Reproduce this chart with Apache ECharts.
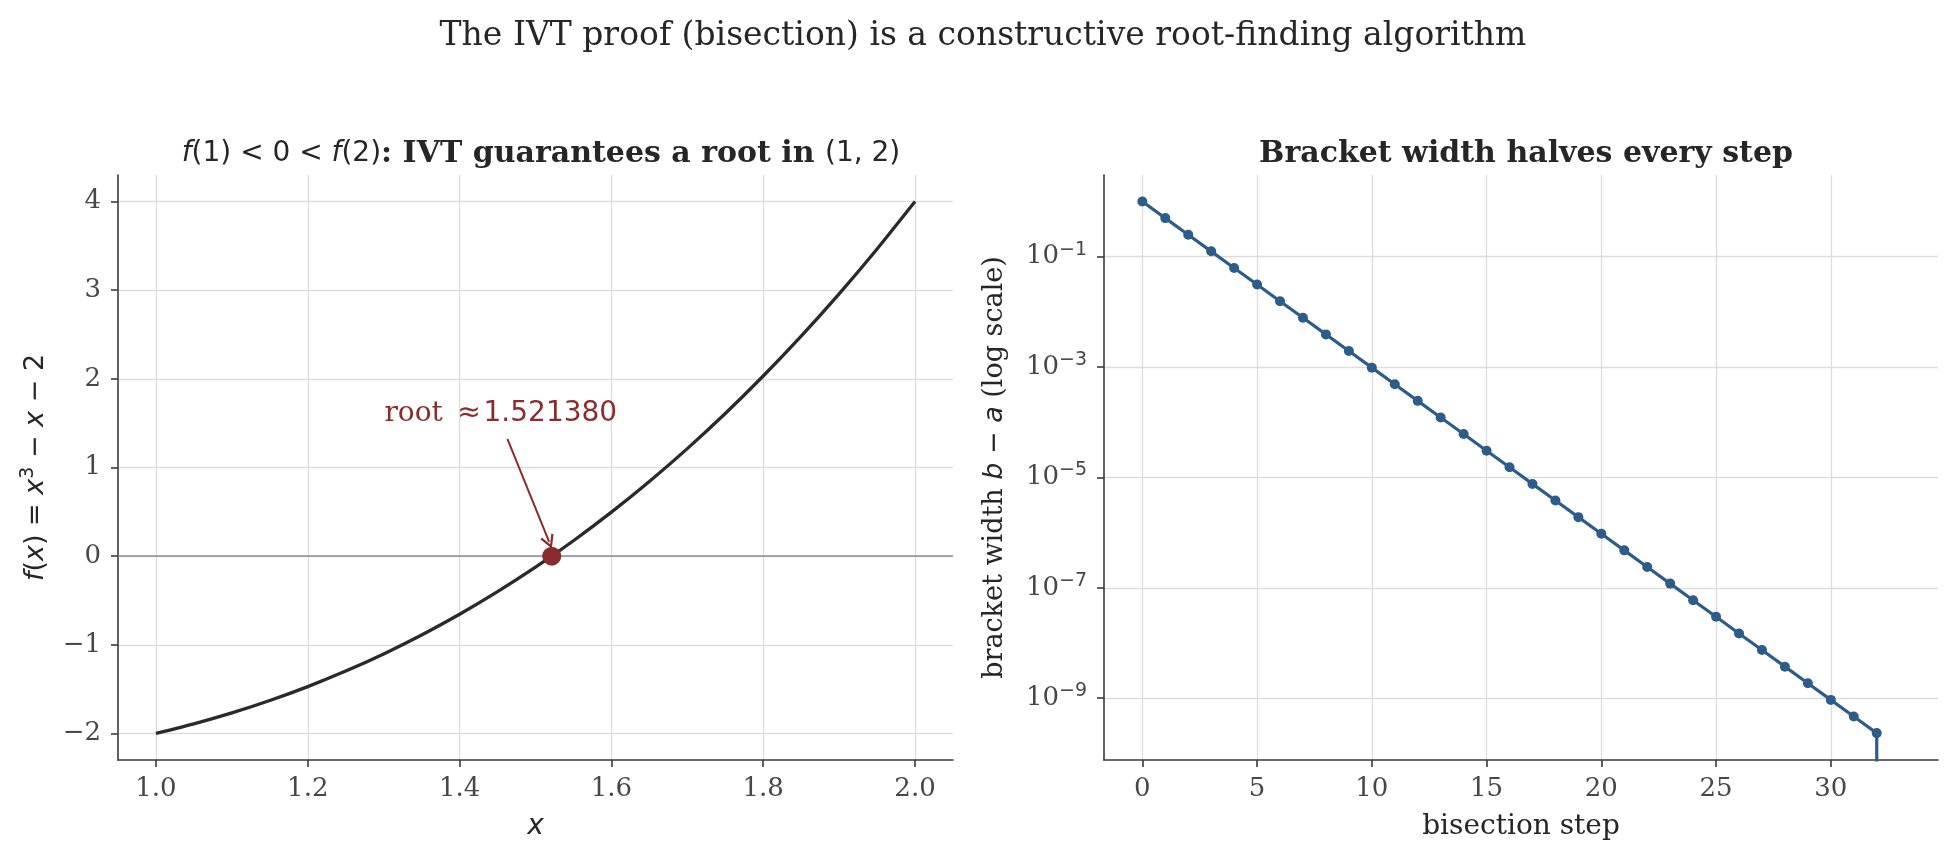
<!DOCTYPE html>
<html>
<head>
<meta charset="utf-8">
<script src="https://cdn.jsdelivr.net/npm/echarts@6/dist/echarts.min.js"></script>
<style>
  html, body { margin: 0; padding: 0; background: #fff; }
  #main { width: 1956px; height: 860px; }
</style>
</head>
<body>
<div id="main"></div>
<script>
// ---- data ----
// left panel: f(x) = x^3 - x - 2 sampled along the drawn curve
const curveX = [1.00, 1.05, 1.10, 1.15, 1.20, 1.25, 1.30, 1.35, 1.40, 1.45, 1.50,
                1.55, 1.60, 1.65, 1.70, 1.75, 1.80, 1.85, 1.90, 1.95, 2.00];
const curveY = [-2.000, -1.892, -1.769, -1.629, -1.472, -1.297, -1.103, -0.890, -0.656, -0.401, -0.125,
                0.174, 0.496, 0.842, 1.213, 1.609, 2.032, 2.482, 2.959, 3.465, 4.000];
const rootX = 1.521380;
const rootLabel = '1.521380';

// right panel: bracket width per bisection step (last one collapses to ~0)
const steps = [0, 1, 2, 3, 4, 5, 6, 7, 8, 9, 10, 11, 12, 13, 14, 15, 16,
               17, 18, 19, 20, 21, 22, 23, 24, 25, 26, 27, 28, 29, 30, 31, 32, 33];
const widths = [1, 0.5, 0.25, 0.125, 0.0625, 0.03125, 0.015625, 0.0078125,
  0.00390625, 0.001953125, 9.765625e-4, 4.8828125e-4, 2.44140625e-4, 1.220703125e-4,
  6.103515625e-5, 3.0517578125e-5, 1.52587890625e-5, 7.62939453125e-6, 3.814697265625e-6,
  1.9073486328125e-6, 9.5367431640625e-7, 4.76837158203125e-7, 2.384185791015625e-7,
  1.1920928955078125e-7, 5.960464477539063e-8, 2.9802322387695312e-8, 1.4901161193847656e-8,
  7.450580596923828e-9, 3.725290283203125e-9, 1.862645149230957e-9, 9.313225746154785e-10,
  4.656612873077393e-10, 2.3283064365386963e-10, 1e-300];

// tick labels
const leftXTicks = [1.0, 1.2, 1.4, 1.6, 1.8, 2.0];
const leftYTicks = [-2, -1, 0, 1, 2, 3, 4];
const rightXTicks = [0, 5, 10, 15, 20, 25, 30];
const rightYTicks = [1e-1, 1e-3, 1e-5, 1e-7, 1e-9];

// ---- style ----
const SERIF = 'DejaVu Serif';
const SANS = 'DejaVu Sans';
const TXT = '#262626';
const TICK = '#474747';
const SPINE = '#3a3a3a';
const GRIDC = '#dddddd';
const RED = '#8b2c2c';
const BLUE = '#2c5d8a';
const FS_TICK = 26, FS_LABEL = 28, FS_TITLE = 30;

const minus = v => (v < 0 ? '\u2212' + (-v) : String(v));

function axisBase(extra) {
  return Object.assign({
    axisLine: { show: true, onZero: false, lineStyle: { color: SPINE, width: 1.6 } },
    splitLine: { show: true, lineStyle: { color: GRIDC, width: 1.3 } },
    nameLocation: 'middle',
    nameTextStyle: { color: TXT, fontFamily: SERIF, fontSize: FS_LABEL }
  }, extra);
}
function ticks(vals) {
  return { show: true, length: 7, customValues: vals, lineStyle: { color: SPINE, width: 1.6 } };
}

// open chevron arrow head, pointing up before rotation
const chevron = 'path://M5,0 L10,8 L8.7,8.9 L5,2.8 L1.3,8.9 L0,8 Z';

const chart = echarts.init(document.getElementById('main'), null, { renderer: 'canvas' });

const option = {
  backgroundColor: '#ffffff',
  animation: false,
  title: [
    {
      text: 'The IVT proof (bisection) is a constructive root-finding algorithm',
      left: 978, top: 15, textAlign: 'center',
      textStyle: { fontFamily: SERIF, fontSize: 33, fontWeight: 'normal', color: TXT }
    },
    {
      text: '{m|f}{n|(1) < 0 < }{m|f}{n|(2)}{b|: IVT guarantees a root in }{n|(1, 2)}',
      left: 536, top: 134, textAlign: 'center',
      textStyle: {
        rich: {
          m: { fontFamily: SANS, fontStyle: 'italic', fontWeight: 'normal', fontSize: FS_TITLE - 2, color: TXT },
          n: { fontFamily: SANS, fontWeight: 'normal', fontSize: FS_TITLE - 2, color: TXT },
          b: { fontFamily: SERIF, fontWeight: 'bold', fontSize: FS_TITLE, color: TXT }
        }
      }
    },
    {
      text: 'Bracket width halves every step',
      left: 1521, top: 134, textAlign: 'center',
      textStyle: { fontFamily: SERIF, fontSize: FS_TITLE, fontWeight: 'bold', color: TXT }
    }
  ],
  grid: [
    { left: 118, top: 175, width: 835, height: 585 },
    { left: 1104, top: 175, width: 834, height: 585 }
  ],
  xAxis: [
    axisBase({
      type: 'value', gridIndex: 0, min: 0.95, max: 2.05,
      axisTick: ticks(leftXTicks),
      axisLabel: {
        customValues: leftXTicks, margin: 16, color: TICK, fontFamily: SERIF, fontSize: FS_TICK,
        formatter: v => v.toFixed(1)
      },
      name: 'x', nameGap: 53,
      nameTextStyle: { color: TXT, fontFamily: SANS, fontStyle: 'italic', fontSize: FS_LABEL }
    }),
    axisBase({
      type: 'value', gridIndex: 1, min: -1.67, max: 34.67,
      axisTick: ticks(rightXTicks),
      axisLabel: {
        customValues: rightXTicks, margin: 16, color: TICK, fontFamily: SERIF, fontSize: FS_TICK
      },
      name: 'bisection step', nameGap: 53
    })
  ],
  yAxis: [
    axisBase({
      type: 'value', gridIndex: 0, min: -2.3, max: 4.3,
      axisTick: ticks(leftYTicks),
      axisLabel: {
        customValues: leftYTicks, margin: 17, color: TICK, fontFamily: SERIF, fontSize: FS_TICK,
        formatter: v => minus(v)
      },
      name: '{m|f}{n|(}{m|x}{n|) = }{m|x}{s|3}{n| \u2212 }{m|x}{n| \u2212 2}',
      nameGap: 66,
      nameTextStyle: {
        rich: {
          m: { fontFamily: SANS, fontStyle: 'italic', fontSize: FS_LABEL - 1, color: TXT },
          n: { fontFamily: SANS, fontSize: FS_LABEL - 1, color: TXT },
          s: { fontFamily: SANS, fontSize: 19, color: TXT, padding: [0, 0, 14, 0] }
        }
      }
    }),
    axisBase({
      type: 'log', gridIndex: 1, logBase: 10,
      min: Math.pow(10, -10.12), max: Math.pow(10, 0.48),
      axisTick: ticks(rightYTicks),
      axisLabel: {
        customValues: rightYTicks, margin: 17,
        formatter: v => '{b|10}{s|' + minus(Math.round(Math.log10(v))) + '}',
        rich: {
          b: { fontFamily: SERIF, fontSize: FS_TICK, color: TICK },
          s: { fontFamily: SANS, fontSize: 19, color: TICK, padding: [0, 0, 14, 0] }
        }
      },
      name: '{r|bracket width }{m|b}{n| \u2212 }{m|a}{r| (log scale)}',
      nameGap: 96,
      nameTextStyle: {
        rich: {
          r: { fontFamily: SERIF, fontSize: FS_LABEL - 1, color: TXT },
          m: { fontFamily: SANS, fontStyle: 'italic', fontSize: FS_LABEL - 1, color: TXT },
          n: { fontFamily: SANS, fontSize: FS_LABEL - 1, color: TXT }
        }
      }
    })
  ],
  series: [
    {
      type: 'line', xAxisIndex: 0, yAxisIndex: 0,
      data: curveX.map((x, i) => [x, curveY[i]]),
      showSymbol: false, smooth: 0.2,
      lineStyle: { color: '#2a2a2a', width: 3.3 },
      z: 3,
      markLine: {
        silent: true, symbol: ['none', 'none'],
        label: { show: false },
        lineStyle: { color: '#8c8c8c', width: 1.6, type: 'solid' },
        data: [{ yAxis: 0 }]
      }
    },
    {
      type: 'scatter', xAxisIndex: 0, yAxisIndex: 0,
      data: [[rootX, 0]],
      symbolSize: 19,
      itemStyle: { color: RED, opacity: 1 },
      z: 5,
      markPoint: {
        silent: true, symbol: 'circle', symbolSize: 0,
        data: [{ coord: [1.301, 1.61] }],
        label: {
          show: true, position: 'right', distance: 0,
          formatter: '{r|root }{n|\u2009\u2248\u200a' + rootLabel + '}',
          rich: {
            r: { fontFamily: SERIF, fontSize: 28, color: RED },
            n: { fontFamily: SANS, fontSize: 28, color: RED }
          }
        }
      }
    },
    {
      // annotation arrow, drawn on top of the root marker
      type: 'line', xAxisIndex: 0, yAxisIndex: 0,
      data: [],
      z: 6,
      markLine: {
        silent: true, symbol: ['none', chevron], symbolSize: 14,
        label: { show: false },
        lineStyle: { color: RED, width: 2, type: 'solid' },
        data: [[{ coord: [1.463, 1.324] }, { coord: [1.518, 0.16] }]]
      }
    },
    {
      type: 'line', xAxisIndex: 1, yAxisIndex: 1,
      data: steps.map((s, i) => [s, widths[i]]),
      symbol: 'circle', symbolSize: 10, showSymbol: true,
      clip: true,
      lineStyle: { color: BLUE, width: 3.2 },
      itemStyle: { color: BLUE },
      z: 3
    }
  ]
};

chart.setOption(option);
</script>
</body>
</html>
